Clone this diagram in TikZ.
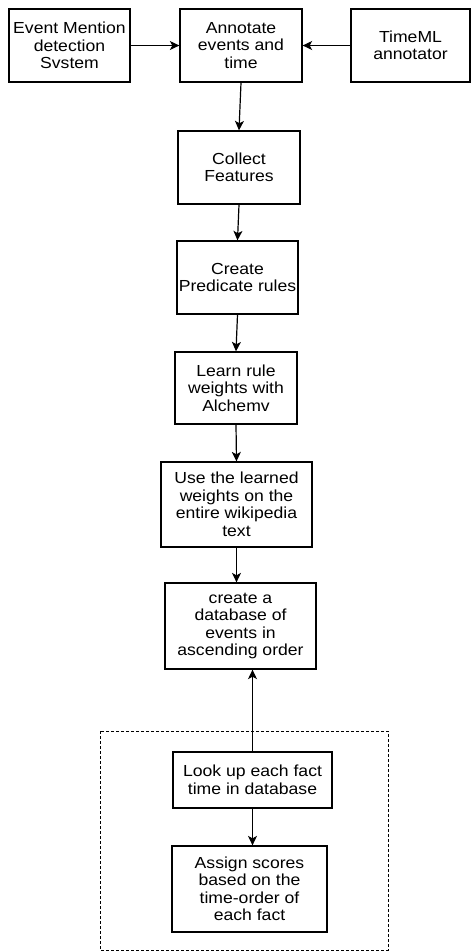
\documentclass[tikz,border=0pt]{standalone}
\usepackage{fontspec}
\setmainfont[FakeStretch=1.1]{Liberation Sans}
\usetikzlibrary{arrows.meta}
\tikzset{
	>={Stealth[length=9.5,width=9,inset=2.5]}, % filled arrow heads
	box/.style={draw,line width=1.3,rectangle,align=center,inner sep=1,
		font=\fontsize{16}{17.5}\selectfont},
	box small/.style={box,minimum width=121,minimum height=73},
	box wide/.style={box,minimum width=151,minimum height=86},
	connect arrow/.style={->,line width=1.2},
	group/.style={draw,line width=1,dash pattern=on 3 off 2}
}

\begin{document}
\begin{tikzpicture}[x=1pt,y=-1pt]
  \useasboundingbox (0,0) rectangle (471,951);
  
  % TOP ROW
  \node[box small] (detect) at (69.5,45.5) {Event Mention\\detection\\Svstem};
  \node[box small,minimum width=122] (annotate) at (241,45.5) {Annotate\\events and\\time};
  \node[box small,minimum width=119] (timeml) at (410.5,45.5) {TimeML\\annotator};
  
  % MAIN CHAIN
  \node[box small,minimum width=122] (collect) at (239,167.5) {Collect\\Features};
  \node[box small] (predicate) at (237.5,277.5) {Create\\Predicate rules};
  \node[box small,minimum width=122,minimum height=72] (learn) at (236,388) {Learn rule\\weights with\\Alchemv};
  \node[box wide,minimum height=85] (apply) at (236.5,504.5) {Use the learned\\weights on the\\entire wikipedia\\text};
  \node[box wide] (database) at (240.5,626) {create a\\database of\\events in\\ascending order};
  
  % DASHED GROUP
  \draw[group] (100,731) rectangle (388,950);
  \node[box,minimum width=159,minimum height=56] (lookup) at (252.5,780) {Look up each fact\\time in database};
  \node[box,minimum width=155,minimum height=86] (assign) at (249.5,889) {Assign scores\\based on the\\time-order of\\each fact};
  
  % ARROWS
  \draw[connect arrow] (detect) -- (annotate);
  \draw[connect arrow] (timeml) -- (annotate);
  \draw[connect arrow] (annotate.south) -- (collect.north);
  \draw[connect arrow] (collect.south) -- (predicate.north);
  \draw[connect arrow] (predicate.south) -- (learn.north);
  \draw[connect arrow] (learn.south) -- (apply.north);
  \draw[connect arrow] (apply.south) -- (apply.south |- database.north);
  \draw[connect arrow] (lookup.north) -- (lookup.north |- database.south);
  \draw[connect arrow] (lookup.south) -- (lookup.south |- assign.north);
  
\end{tikzpicture}
\end{document}
